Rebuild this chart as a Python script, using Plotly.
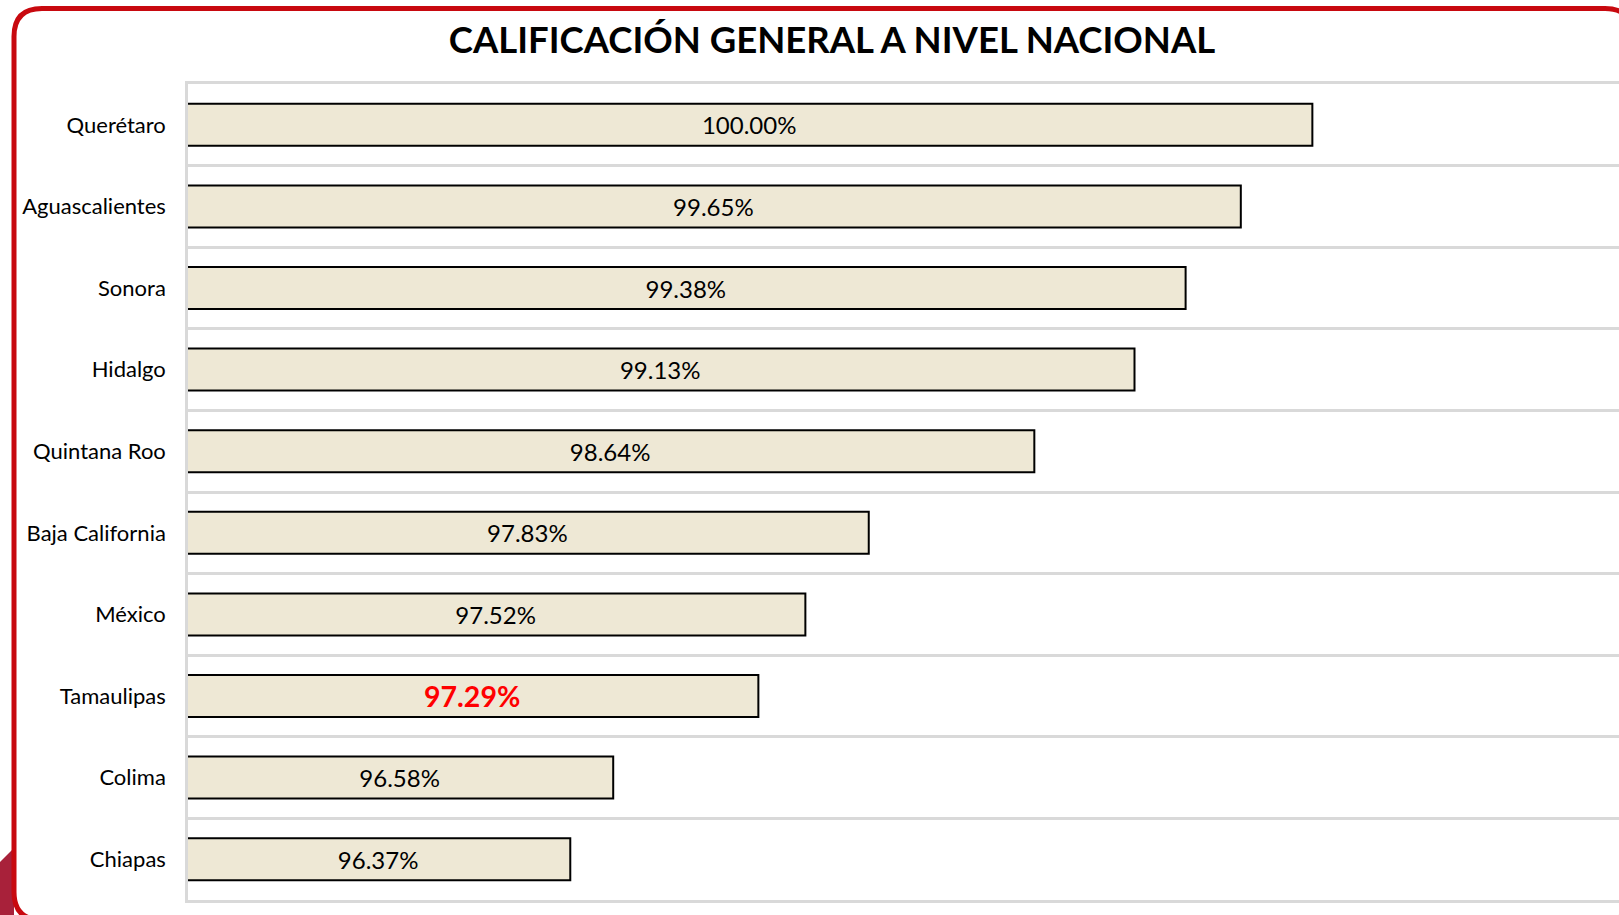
import plotly.graph_objects as go

# ---- data ----
states = ["Querétaro", "Aguascalientes", "Sonora", "Hidalgo", "Quintana Roo",
          "Baja California", "México", "Tamaulipas", "Colima", "Chiapas"]
scores = [100.00, 99.65, 99.38, 99.13, 98.64, 97.83, 97.52, 97.29, 96.58, 96.37]
labels = ["100.00%", "99.65%", "99.38%", "99.13%", "98.64%",
          "97.83%", "97.52%", "97.29%", "96.58%", "96.37%"]
highlight = "Tamaulipas"
title_text = "CALIFICACIÓN GENERAL A NIVEL NACIONAL"

W, H = 1619, 915
X_MIN, X_MAX = 94.5, 101.5
BAR_BASE = 94.49

FONT = "Lato"
GRID = "#D9D9D9"

def px(x):
    return x / W

def py(y):
    return 1 - y / H

text_colors = ["#FF0000" if s == highlight else "#000000" for s in states]
text_sizes = [28.5 if s == highlight else 24 for s in states]
text_weights = ["bold" if s == highlight else "normal" for s in states]

fig = go.Figure()
fig.add_trace(go.Bar(
    y=states,
    x=[v - BAR_BASE for v in scores],
    base=BAR_BASE,
    orientation="h",
    width=0.515,
    marker=dict(color="#EEE8D5", line=dict(color="#000000", width=2)),
    text=labels,
    textposition="inside",
    insidetextanchor="middle",
    textangle=0,
    textfont=dict(family=FONT, color=text_colors, size=text_sizes, weight=text_weights),
    hoverinfo="skip",
))

# rounded red frame (pixel coords converted to paper)
L, T, R, B, r = 14, 8.5, 1633, 920, 28
path = (
    f"M {px(L+r)},{py(T)} L {px(R-r)},{py(T)} Q {px(R)},{py(T)} {px(R)},{py(T+r)} "
    f"L {px(R)},{py(B-r)} Q {px(R)},{py(B)} {px(R-r)},{py(B)} "
    f"L {px(L+r)},{py(B)} Q {px(L)},{py(B)} {px(L)},{py(B-r)} "
    f"L {px(L)},{py(T+r)} Q {px(L)},{py(T)} {px(L+r)},{py(T)} Z"
)
blob = f"M {px(0)},{py(862)} L {px(14)},{py(848)} L {px(14)},{py(915)} L {px(0)},{py(915)} Z"

fig.update_layout(
    width=W, height=H, autosize=False,
    margin=dict(l=0, r=0, t=0, b=0),
    paper_bgcolor="white", plot_bgcolor="white",
    showlegend=False,
    title=dict(text=f"<b>{title_text}</b>", x=px(832), y=py(40),
               xanchor="center", yanchor="middle",
               font=dict(family=FONT, size=36.5, color="#000000")),
    xaxis=dict(range=[X_MIN, X_MAX], domain=[px(188), 1],
               showticklabels=False, ticks="", showgrid=False, zeroline=False,
               showline=True, linecolor=GRID, linewidth=2.5, mirror=True,
               fixedrange=True),
    yaxis=dict(type="category", categoryorder="array", categoryarray=states,
               autorange="reversed", domain=[py(900), py(84)],
               tickson="boundaries", ticks="", showgrid=True,
               gridcolor=GRID, gridwidth=2.5,
               showline=True, linecolor=GRID, linewidth=2.5,
               ticklabelstandoff=15,
               tickfont=dict(family=FONT, size=22, color="#000000"),
               fixedrange=True),
    shapes=[
        dict(type="path", path=blob, xref="paper", yref="paper",
             fillcolor="#A8213A", line=dict(width=0), layer="above"),
        dict(type="path", path=path, xref="paper", yref="paper",
             line=dict(color="#C8090F", width=5), layer="above"),
    ],
)

fig.write_html(
    "out.html",
    config={"displayModeBar": False},
    post_script="document.body.style.margin='0';document.body.style.overflow='hidden';",
)
